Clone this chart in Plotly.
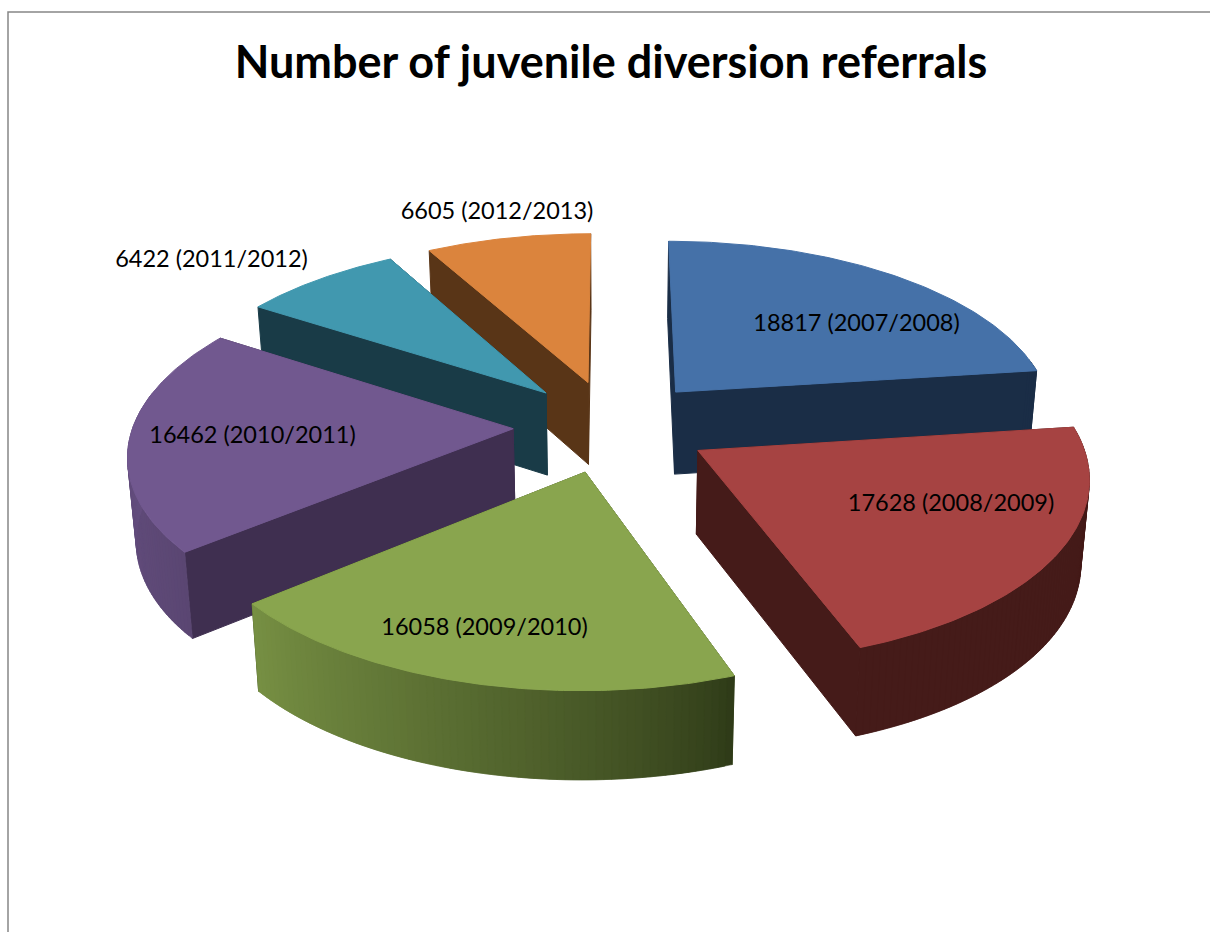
import numpy as np
import plotly.graph_objects as go

# Referral counts per financial year, clockwise from twelve o'clock
periods = ["2007/2008", "2008/2009", "2009/2010", "2010/2011", "2011/2012", "2012/2013"]
referrals = [18817, 17628, 16058, 16462, 6422, 6605]

# Face, radial wall and rim-shading colours of each slice
top_colors = ["#4571A8", "#A64342", "#89A54E", "#71588F", "#4198AF", "#DB843D"]
wall_colors = ["#1A2D46", "#451B19", "#39471F", "#3F2F50", "#193B47", "#593517"]
rim_start = ["#1A2D46", "#451B19", "#2F3B18", "#5A4672", "#193B47", "#593517"]
rim_end = ["#1A2D46", "#451B19", "#768F43", "#6A5386", "#193B47", "#593517"]

# Paint order, rear slices first
paint_order = [5, 4, 3, 2, 0, 1]

# Label centres in page pixels
label_x = [856.5, 951, 484.5, 252.5, 211.5, 497]
label_y = [325.5, 505.5, 629.5, 437.5, 261.5, 213]

# Perspective model of the pie, in page pixels
CX, CY = 612, 426
SCALE_X, SCALE_Y = 380, 178
FORESHORTEN = 0.127
EXPLODE = 0.26
DEPTH = 83
DEPTH_TAPER = 0.06
BASE_SHRINK = 0.982
RIM_GAMMA = 0.8


def project(x, y, lower=False):
    x, y = np.asarray(x, float), np.asarray(y, float)
    w = 1 + FORESHORTEN * y
    sx = CX + SCALE_X * x / w
    sy = CY - SCALE_Y * y / w
    if lower:
        sx = CX + (sx - CX) * BASE_SHRINK
        sy = sy + DEPTH * (1 - DEPTH_TAPER * y)
    return sx, sy


def polygon(sx, sy, color, name, edge=1.0):
    return go.Scatter(
        x=list(sx) + [sx[0]], y=list(sy) + [sy[0]], mode="lines", fill="toself",
        fillcolor=color, line=dict(color=color, width=edge), hoverinfo="skip",
        name=name, showlegend=False,
    )


def blend(c1, c2, t):
    a = [int(c1[i:i + 2], 16) for i in (1, 3, 5)]
    b = [int(c2[i:i + 2], 16) for i in (1, 3, 5)]
    return "#%02X%02X%02X" % tuple(round(p + (q - p) * t) for p, q in zip(a, b))


values = np.array(referrals, float)
edges = np.concatenate([[0], np.cumsum(values) / values.sum() * 2 * np.pi])

fig = go.Figure()

# Chart frame: only the top and left edges fall inside the page
fig.add_trace(go.Scatter(x=[8, 8, 1210], y=[932, 12, 12], mode="lines",
                         line=dict(color="#868686", width=1.5), hoverinfo="skip",
                         showlegend=False))

for i in paint_order:
    a0, a1 = edges[i], edges[i + 1]
    mid = (a0 + a1) / 2
    ox, oy = EXPLODE * np.sin(mid), EXPLODE * np.cos(mid)

    # Radial walls, the one further back first
    walls = sorted([a0, a1], key=lambda a: -(oy + 0.5 * np.cos(a)))
    for a in walls:
        xs = np.array([ox, ox + np.sin(a)])
        ys = np.array([oy, oy + np.cos(a)])
        tx, ty = project(xs, ys)
        bx, by = project(xs, ys, lower=True)
        fig.add_trace(polygon([tx[0], tx[1], bx[1], bx[0]], [ty[0], ty[1], by[1], by[0]],
                              wall_colors[i], periods[i], edge=1.0))

    # Rim as overlapping strips so that shading can run along the arc without seams
    n = max(2, int(np.degrees(a1 - a0) / 1.0))
    arc = np.linspace(a0, a1, n + 1)
    for j in range(n):
        seg = arc[j:j + 3]
        if np.cos(arc[j:j + 2].mean()) > 0.2:
            continue
        xs, ys = ox + np.sin(seg), oy + np.cos(seg)
        tx, ty = project(xs, ys)
        bx, by = project(xs, ys, lower=True)
        shade = blend(rim_start[i], rim_end[i], (j / max(1, n - 1)) ** RIM_GAMMA)
        fig.add_trace(polygon(list(tx) + list(bx[::-1]), list(ty) + list(by[::-1]),
                              shade, periods[i], edge=0.5))

    # Top face
    arc = np.linspace(a0, a1, 90)
    xs = np.concatenate([[ox], ox + np.sin(arc)])
    ys = np.concatenate([[oy], oy + np.cos(arc)])
    tx, ty = project(xs, ys)
    fig.add_trace(polygon(tx, ty, top_colors[i], periods[i]))

fig.add_trace(go.Scatter(
    x=label_x, y=label_y, mode="text",
    text=[f"{v} ({p})" for v, p in zip(referrals, periods)],
    textposition="middle center",
    textfont=dict(family="Lato", size=23.5, color="#000000"),
    hoverinfo="skip", showlegend=False,
))

fig.update_layout(
    width=1210, height=932, margin=dict(l=0, r=0, t=0, b=0, pad=0),
    paper_bgcolor="#FFFFFF", plot_bgcolor="#FFFFFF", showlegend=False,
    xaxis=dict(range=[0, 1210], visible=False, fixedrange=True),
    yaxis=dict(range=[932, 0], visible=False, fixedrange=True),
    title=dict(text="<b>Number of juvenile diversion referrals</b>",
               x=611 / 1210, xanchor="center", y=1 - 62 / 932, yanchor="middle",
               font=dict(family="Lato", size=45, color="#000000")),
)

fig.write_html("out.html", config=dict(displayModeBar=False))
